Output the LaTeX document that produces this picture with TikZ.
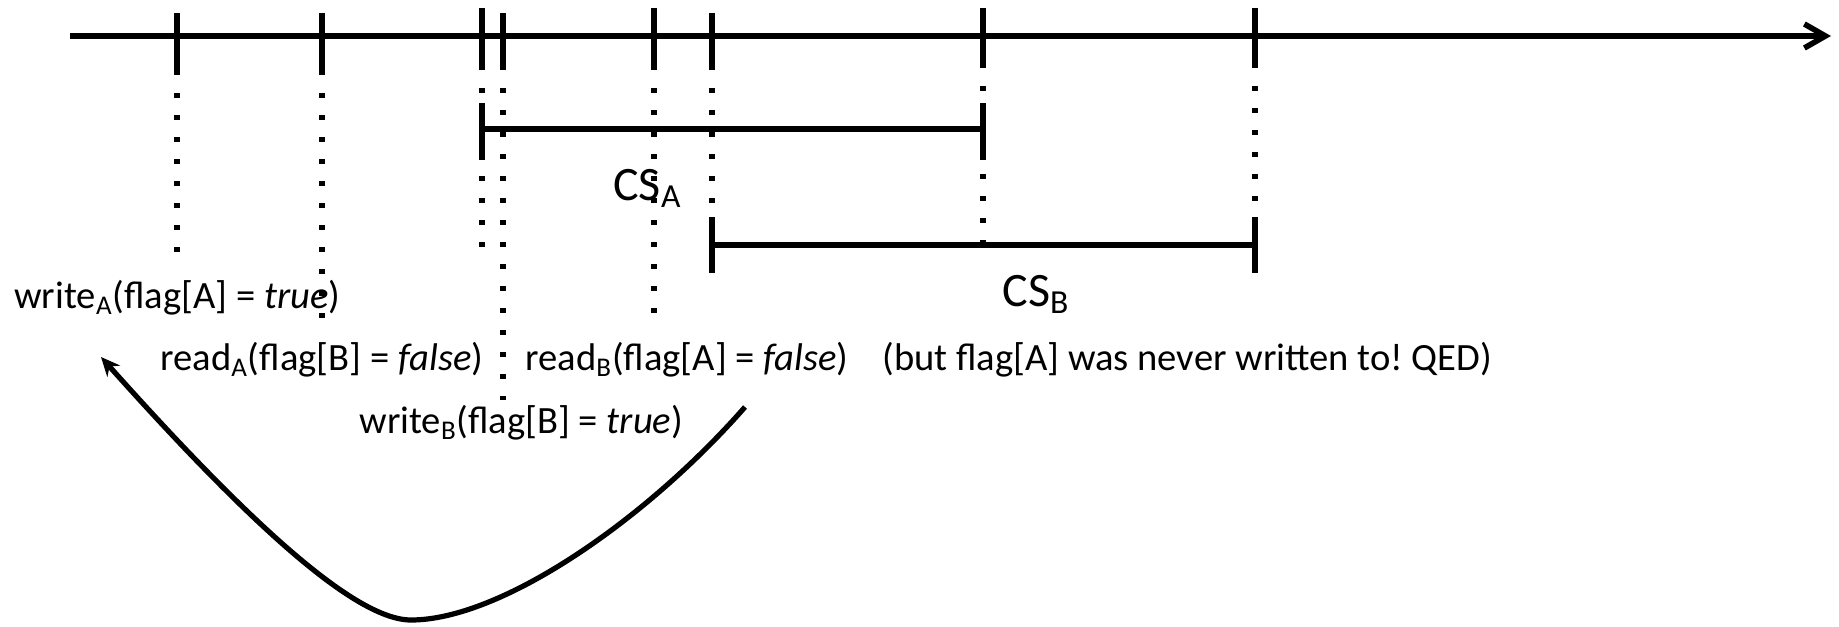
\documentclass[tikz,border=0pt]{standalone}
\usepackage{fontspec}
\setmainfont{Carlito}
\usetikzlibrary{arrows.meta,calc}
\frenchspacing
\begin{document}
\begin{tikzpicture}[x=0.5pt,y=-0.5pt,
  axisline/.style={line width=2.8pt},
  tickline/.style={line width=2.8pt},
  dotline/.style={line width=2.6pt, dash pattern=on 2.6pt off 8.4pt},
  lbl/.style={inner sep=0pt, anchor=base west, font=\fontsize{19.3}{23}\selectfont},
  cslbl/.style={inner sep=0pt, anchor=base west, font=\fontsize{24}{28}\selectfont},
]
\useasboundingbox (0,0) rectangle (1839,626);

% time axis
\coordinate (start) at (70,36);
\coordinate (end) at (1831,36);

% event instants on the axis: name / x / tick top / tick bottom / dotted end
\foreach \n/\x/\a/\b/\d in {1/177/13/75/253, 2/322/13/75/324, 3/482/8/70/248,
    4/503/13/70/400, 5/654/8/70/324, 6/712/13/70/222, 7/983/8/68/250, 8/1255/8/68/222}{
  \coordinate (top\n) at (\x,\a);
  \coordinate (bot\n) at (\x,\b);
  \coordinate (dend\n) at (\x,\d);
  \draw[dotline] ($(bot\n)+(0,18)$) -- (dend\n);
}

\draw[axisline, -{Straight Barb[length=10.5pt,width=12pt]}] (start) -- (end);
\foreach \n in {1,...,8}{\draw[tickline] (top\n) -- (bot\n);}

% critical sections
\coordinate (csal) at (482,129);
\coordinate (csar) at (983,129);
\coordinate (csbl) at (712,245);
\coordinate (csbr) at (1255,245);
\draw[tickline] (csal) -- (csar);
\draw[tickline] ($(csal)+(0,-26)$) -- ($(csal)+(0,31)$);
\draw[tickline] ($(csar)+(0,-26)$) -- ($(csar)+(0,31)$);
\draw[tickline] (csbl) -- (csbr);
\draw[tickline] ($(csbl)+(0,-28)$) -- ($(csbl)+(0,28)$);
\draw[tickline] ($(csbr)+(0,-28)$) -- ($(csbr)+(0,28)$);

\node[cslbl] (csa) at (613,200) {CS\textsubscript{A}};
\node[cslbl] (csb) at (1002,306) {CS\textsubscript{B}};

% operations
\node[lbl] (wa) at (14,308) {write\textsubscript{A}(flag[A] = \textit{true})};
\node[lbl] (ra) at (160,370) {read\textsubscript{A}(flag[B] = \textit{false})};
\node[lbl] (rb) at (525,370) {read\textsubscript{B}(flag[A] = \textit{false})};
\node[lbl] (qed) at (882,370) {(but flag[A] was never written to! QED)};
\node[lbl] (wb) at (359,433) {write\textsubscript{B}(flag[B] = \textit{true})};

% reordering arrow
\coordinate (from) at (745,407);
\coordinate (low) at (411,620);
\coordinate (to) at (101,357);
\draw[line width=2.6pt, -{Stealth[length=9.5pt,width=8.5pt]}] (from) .. controls (646,520) and (501,620) .. (low)
  .. controls (351,620) and (235,507) .. (to);
\end{tikzpicture}
\end{document}
